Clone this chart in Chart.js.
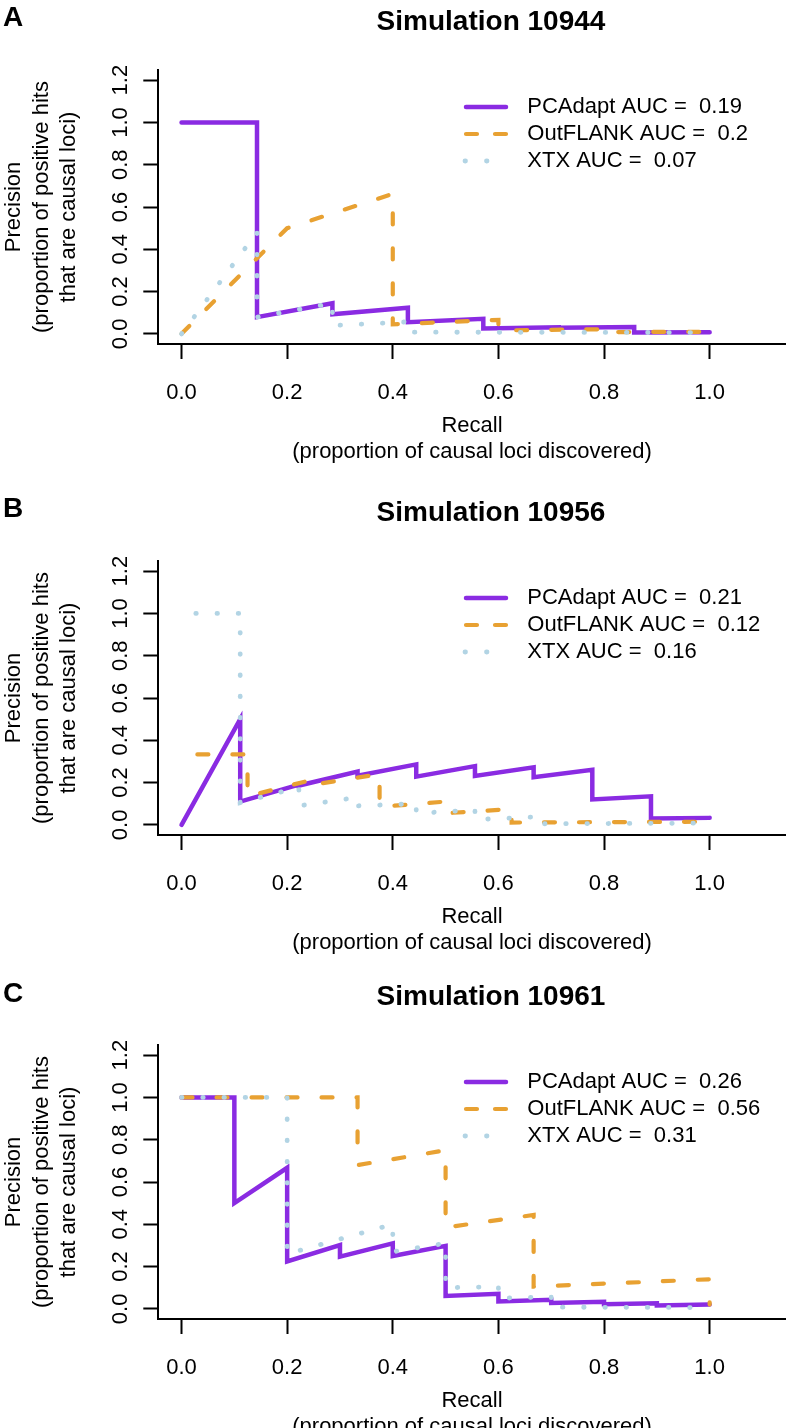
<!DOCTYPE html>
<html><head><meta charset="utf-8">
<script src="https://cdn.jsdelivr.net/npm/chart.js@4.4.1/dist/chart.umd.min.js"></script>
<style>
html,body{margin:0;padding:0;background:#fff;overflow:hidden;width:789px;height:1428px;}
#wrap{position:relative;width:789px;height:1428px;overflow:hidden;}
canvas{position:absolute;left:0;}
.ttl{position:absolute;font:bold 28px "Liberation Sans",Arial,sans-serif;color:#000;transform:translate(-50%,-50%);white-space:nowrap;}
.let{position:absolute;font:bold 28px "Liberation Sans",Arial,sans-serif;color:#000;transform:translateY(-50%);}
</style></head><body><div id="wrap"></div>
<script>
// ---------- data ----------
const xTicks = [0, 0.2, 0.4, 0.6, 0.8, 1.0];
const yTicks = [0, 0.2, 0.4, 0.6, 0.8, 1.0, 1.2];
const panelLetters = ["A", "B", "C"];
const panelTitles = ["Simulation 10944", "Simulation 10956", "Simulation 10961"];
const methods = ["PCAdapt", "OutFLANK", "XTX"];
const aucA = ["0.19", "0.2", "0.07"];
const aucB = ["0.21", "0.12", "0.16"];
const aucC = ["0.26", "0.56", "0.31"];

// Panel A
const recallA_PCAdapt = [0, 0.1429, 0.1429, 0.2857, 0.2857, 0.4286, 0.4286, 0.5714, 0.5714, 0.7143, 0.7143, 0.8571, 0.8571, 1.0];
const precA_PCAdapt   = [1.0, 1.0, 0.079, 0.145, 0.093, 0.124, 0.055, 0.071, 0.025, 0.031, 0.029, 0.032, 0.006, 0.008];
const recallA_OutFLANK = [0, 0.2, 0.4, 0.4, 0.6, 0.6, 0.8, 0.8, 1.0];
const precA_OutFLANK   = [0, 0.5, 0.662, 0.045, 0.066, 0.016, 0.022, 0.008, 0.01];
const recallA_XTX = [0, 0.1429, 0.1429, 0.2857, 0.2857, 0.4286, 0.4286, 1.0];
const precA_XTX   = [0, 0.48, 0.079, 0.145, 0.039, 0.057, 0.008, 0.006];

// Panel B
const recallB_PCAdapt = [0, 0.1111, 0.1111, 0.2222, 0.2222, 0.3333, 0.3333, 0.4444, 0.4444, 0.5556, 0.5556, 0.6667, 0.6667, 0.7778, 0.7778, 0.8889, 0.8889, 1.0];
const precB_PCAdapt   = [0, 0.5, 0.11, 0.19, 0.186, 0.252, 0.232, 0.286, 0.228, 0.278, 0.231, 0.272, 0.225, 0.26, 0.12, 0.135, 0.03, 0.033];
const recallB_OutFLANK = [0.03, 0.125, 0.125, 0.25, 0.25, 0.375, 0.375, 0.5, 0.5, 0.625, 0.625, 1.0];
const precB_OutFLANK   = [0.333, 0.333, 0.135, 0.215, 0.19, 0.24, 0.085, 0.11, 0.055, 0.075, 0.011, 0.015];
const recallB_XTX = [0.027, 0.1111, 0.1111, 0.2222, 0.2222, 0.3333, 0.3333, 0.4444, 0.4444, 0.5556, 0.5556, 0.6667, 0.6667, 1.0];
const precB_XTX   = [1.0, 1.0, 0.105, 0.178, 0.09, 0.13, 0.09, 0.1, 0.055, 0.07, 0.025, 0.037, 0.005, 0.008];

// Panel C
const recallC_PCAdapt = [0, 0.1, 0.1, 0.2, 0.2, 0.3, 0.3, 0.4, 0.4, 0.5, 0.5, 0.6, 0.6, 0.7, 0.7, 0.8, 0.8, 0.9, 0.9, 1.0];
const precC_PCAdapt   = [1.0, 1.0, 0.5, 0.667, 0.224, 0.302, 0.247, 0.31, 0.25, 0.298, 0.061, 0.071, 0.035, 0.043, 0.028, 0.033, 0.022, 0.026, 0.016, 0.02];
const recallC_OutFLANK = [0, 0.3333, 0.3333, 0.5, 0.5, 0.6667, 0.6667, 1.0, 1.0];
const precC_OutFLANK   = [1.0, 1.0, 0.68, 0.75, 0.385, 0.444, 0.105, 0.14, 0.02];
const recallC_XTX = [0, 0.2, 0.2, 0.4, 0.4, 0.5, 0.5, 0.6, 0.6, 0.7, 0.7, 1.0];
const precC_XTX   = [1.0, 1.0, 0.26, 0.4, 0.27, 0.31, 0.1, 0.105, 0.05, 0.057, 0.008, 0.006];

// ---------- style / layout ----------
const FONT = '"Liberation Sans", Arial, sans-serif';
const COLORS = ["#8A2BE2", "#E8A132", "#B2D4E4"];
const PLOT_LEFT = 158.3, PLOT_RIGHT = 785.7, PLOT_H = 274;
const plotTops = [69.6, 560.8, 1045];
const CAN_W = 789, CAN_H = 480, TOP_PAD = 70, XAXIS_H = 121.75;

const panels = [
  {rec: [recallA_PCAdapt, recallA_OutFLANK, recallA_XTX], prec: [precA_PCAdapt, precA_OutFLANK, precA_XTX], auc: aucA},
  {rec: [recallB_PCAdapt, recallB_OutFLANK, recallB_XTX], prec: [precB_PCAdapt, precB_OutFLANK, precB_XTX], auc: aucB},
  {rec: [recallC_PCAdapt, recallC_OutFLANK, recallC_XTX], prec: [precC_PCAdapt, precC_OutFLANK, precC_XTX], auc: aucC}
];

const lineStyles = [
  {width: 4.5, dash: [], legendDash: [], lx0: 307.7, lx1: 347.7},
  {width: 4.2, dash: [11, 24], legendDash: [11, 18], lx0: 307.7, lx1: 347.7},
  {width: 4.8, dash: [0.5, 20.7], legendDash: [0.5, 21], lx0: 306.7, lx1: 329}
];

const legendPlugin = {
  id: 'prLegend',
  afterDatasetsDraw(chart, args, opts) {
    const {ctx, chartArea} = chart;
    const left = chartArea.left, top = chartArea.top;
    ctx.save();
    opts.items.forEach((it, i) => {
      const y = top + 37 + i * 27;
      const st = lineStyles[i];
      ctx.strokeStyle = COLORS[i];
      ctx.lineWidth = st.width;
      ctx.lineCap = 'round';
      ctx.setLineDash(st.legendDash);
      ctx.beginPath();
      ctx.moveTo(left + st.lx0, y);
      ctx.lineTo(left + st.lx1, y);
      ctx.stroke();
      ctx.setLineDash([]);
      ctx.fillStyle = '#000';
      ctx.font = '22px ' + FONT;
      ctx.textBaseline = 'middle';
      ctx.textAlign = 'left';
      ctx.fillText(it, left + 369, y);
    });
    ctx.restore();
  }
};

const wrap = document.getElementById('wrap');

panels.forEach((p, pi) => {
  const canTop = plotTops[pi] - TOP_PAD;
  const cv = document.createElement('canvas');
  cv.width = CAN_W; cv.height = CAN_H;
  cv.style.top = canTop + 'px';
  cv.style.width = CAN_W + 'px'; cv.style.height = CAN_H + 'px';
  wrap.appendChild(cv);

  const lt = document.createElement('div');
  lt.className = 'let'; lt.textContent = panelLetters[pi];
  lt.style.left = '3px'; lt.style.top = (plotTops[pi] - 52.5) + 'px';
  wrap.appendChild(lt);

  const tt = document.createElement('div');
  tt.className = 'ttl'; tt.textContent = panelTitles[pi];
  tt.style.left = '491px'; tt.style.top = (plotTops[pi] - 48.6) + 'px';
  wrap.appendChild(tt);

  const datasets = [0, 1, 2].map(k => ({
    label: methods[k],
    data: p.rec[k].map((r, j) => ({x: r, y: p.prec[k][j]})),
    borderColor: COLORS[k],
    borderWidth: lineStyles[k].width,
    borderDash: lineStyles[k].dash,
    borderCapStyle: 'round',
    borderJoinStyle: 'miter',
    pointRadius: 0,
    tension: 0,
    fill: false,
    order: 3 - k
  }));

  const bottomPad = CAN_H - TOP_PAD - PLOT_H - XAXIS_H;

  new Chart(cv, {
    type: 'line',
    data: {datasets},
    options: {
      responsive: false,
      animation: false,
      devicePixelRatio: 1,
      layout: {padding: {left: 0, top: TOP_PAD, right: CAN_W - PLOT_RIGHT, bottom: bottomPad}},
      plugins: {
        legend: {display: false},
        tooltip: {enabled: false},
        title: {display: false},
        prLegend: {items: [0, 1, 2].map(k => methods[k] + ' AUC =  ' + p.auc[k])}
      },
      scales: {
        x: {
          type: 'linear', min: -0.044, max: 1.144,
          afterBuildTicks: s => { s.ticks = xTicks.map(v => ({value: v})); },
          afterFit: s => { s.height = XAXIS_H; },
          grid: {drawOnChartArea: false, drawTicks: true, tickLength: 15, tickColor: '#000', tickWidth: 2},
          border: {display: true, color: '#000', width: 2},
          ticks: {autoSkip: false, maxRotation: 0, minRotation: 0, padding: 21, color: '#000',
                  font: {family: FONT, size: 22}, callback: v => Number(v).toFixed(1)},
          title: {display: true, text: ["Recall", "(proportion of causal loci discovered)"], color: '#000',
                  padding: 0, font: {family: FONT, size: 22, lineHeight: 1.22}}
        },
        y: {
          type: 'linear', min: -0.048, max: 1.248,
          afterBuildTicks: s => { s.ticks = yTicks.map(v => ({value: v})); },
          afterFit: s => { s.width = PLOT_LEFT; },
          grid: {drawOnChartArea: false, drawTicks: true, tickLength: 15, tickColor: '#000', tickWidth: 2},
          border: {display: true, color: '#000', width: 2},
          ticks: {autoSkip: false, minRotation: 90, maxRotation: 90, crossAlign: 'center', padding: 7, color: '#000',
                  font: {family: FONT, size: 22}, callback: v => Number(v).toFixed(1)},
          title: {display: true, text: ["Precision", "(proportion of positive hits", "that are causal loci)"], color: '#000',
                  padding: 0, font: {family: FONT, size: 22, lineHeight: 1.26}}
        }
      }
    },
    plugins: [legendPlugin]
  });
});
</script>
</body></html>
